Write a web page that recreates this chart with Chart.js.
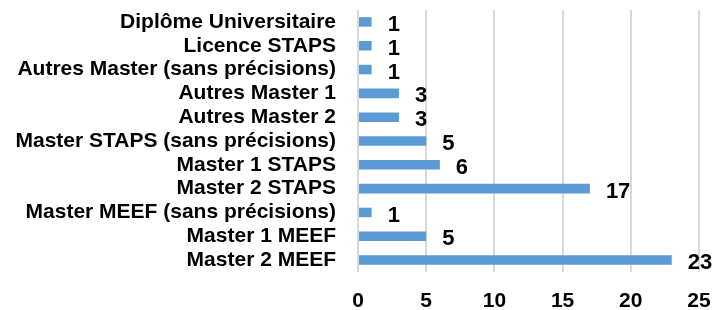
<!DOCTYPE html>
<html>
<head>
<meta charset="utf-8">
<script src="https://cdn.jsdelivr.net/npm/chart.js@4"></script>
<style>
  html, body { margin: 0; padding: 0; background: #fff; }
  #wrap { width: 713px; height: 310px; }
</style>
</head>
<body>
<div id="wrap"><canvas id="myChart"></canvas></div>
<script>
// categories, top to bottom as in the picture
var categories = [
  'Diplôme Universitaire',
  'Licence STAPS',
  'Autres Master (sans précisions)',
  'Autres Master 1',
  'Autres Master 2',
  'Master STAPS (sans précisions)',
  'Master 1 STAPS',
  'Master 2 STAPS',
  'Master MEEF (sans précisions)',
  'Master 1 MEEF',
  'Master 2 MEEF'
];
var values = [1, 1, 1, 3, 3, 5, 6, 17, 1, 5, 23];
var xTicks = [0, 5, 10, 15, 20, 25];

// petit plugin pour les étiquettes de valeurs
var valueLabels = {
  id: 'valueLabels',
  afterDatasetsDraw: function (chart) {
    var c = chart.ctx;
    var meta = chart.getDatasetMeta(0);
    c.save();
    c.font = 'bold 22px "Liberation Sans", Arial, sans-serif';
    c.fillStyle = '#000';
    c.textAlign = 'left';
    c.textBaseline = 'middle';
    meta.data.forEach(function (bar, i) {
      c.fillText(values[i], bar.x + 16, bar.y + 3);
    });
    c.restore();
  }
};

var ctx = document.getElementById('myChart').getContext('2d');
var myChart = new Chart(ctx, {
  type: 'bar',
  data: {
    labels: categories,
    datasets: [{
      data: values,
      backgroundColor: '#5b9bd5',
      borderWidth: 0,
      categoryPercentage: 1,
      barPercentage: 0.4
    }]
  },
  options: {
    indexAxis: 'y',
    responsive: true,
    maintainAspectRatio: false,
    animation: false,
    layout: { padding: { top: 10, right: 14, left: 0, bottom: 0 } },
    plugins: {
      legend: { display: false },
      tooltip: { enabled: false }
    },
    scales: {
      x: {
        min: 0,
        max: 25,
        afterBuildTicks: function (scale) {
          scale.ticks = xTicks.map(function (v) { return { value: v }; });
        },
        afterFit: function (scale) {
          scale.height = 38;
          scale.paddingLeft = 0;
          scale.paddingRight = 0;
        },
        grid: { color: '#d9d9d9', lineWidth: 2, drawTicks: false },
        border: { display: false },
        ticks: {
          padding: 17,
          color: '#000',
          font: { family: '"Liberation Sans", Arial, sans-serif', size: 21, weight: 'bold' }
        }
      },
      y: {
        afterFit: function (scale) {
          scale.width = 358;
          scale.paddingTop = 0;
          scale.paddingBottom = 0;
        },
        grid: { display: false, drawTicks: false },
        border: { display: false },
        ticks: {
          padding: 22,
          color: '#000',
          autoSkip: false,
          font: { family: '"Liberation Sans", Arial, sans-serif', size: 21, weight: 'bold' }
        }
      }
    }
  },
  plugins: [valueLabels]
});
</script>
</body>
</html>
